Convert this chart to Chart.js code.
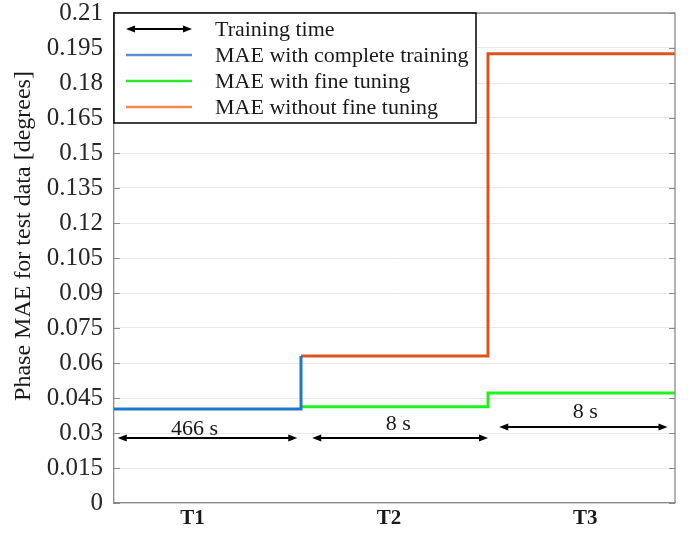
<!DOCTYPE html>
<html>
<head>
<meta charset="utf-8">
<script src="https://cdn.jsdelivr.net/npm/chart.js@4.4.0/dist/chart.umd.min.js"></script>
<style>
  html, body { margin: 0; padding: 0; background: #fff; }
  #wrap { width: 695px; height: 533px; }
</style>
</head>
<body>
<div id="wrap"><canvas id="chart"></canvas></div>
<script>
// stages and MAE per stage (null = no value in that stage)
const stages = ['T1', 'T2', 'T3'];
const stageLabelAt = [0.42, 1.47, 2.52];
const completeMAE = [0.0403, null, null];
const fineTuneMAE = [null, 0.0413, 0.0471];
const noFineTuneMAE = [null, 0.063, 0.1925];

const yTicks = [0, 0.015, 0.03, 0.045, 0.06, 0.075, 0.09, 0.105, 0.12, 0.135, 0.15, 0.165, 0.18, 0.195, 0.21];
const yTitle = 'Phase MAE for test data [degrees]';

// training time arrows
const trainTimes = ['466 s', '8 s', '8 s'];
const arrowLevel = [0.0279, 0.0279, 0.0326];
const arrowFrom = [0.02, 1.06, 2.06];
const arrowTo = [0.98, 2.0, 2.96];
const labelX = [0.43, 1.52, 2.52];
const labelLevel = [0.0317, 0.0338, 0.039];

const FONT = '"Liberation Serif", "Times New Roman", serif';
const AXIS_GRAY = '#8a8a8a';

function stepPoints(values) {
  const pts = [];
  values.forEach((v, i) => {
    if (v === null) return;
    pts.push({ x: i, y: v }, { x: i + 1, y: v });
  });
  return pts;
}

// the complete-training curve jumps up to the T2 level at the end of T1
const bluePts = stepPoints(completeMAE);
bluePts.push({ x: 1, y: noFineTuneMAE[1] });

function drawArrow(ctx, x1, x2, y) {
  const head = 9, half = 3.5;
  ctx.beginPath();
  ctx.moveTo(x1 + 4, y);
  ctx.lineTo(x2 - 4, y);
  ctx.stroke();
  ctx.beginPath();
  ctx.moveTo(x1, y); ctx.lineTo(x1 + head, y - half); ctx.lineTo(x1 + head, y + half); ctx.closePath();
  ctx.fill();
  ctx.beginPath();
  ctx.moveTo(x2, y); ctx.lineTo(x2 - head, y - half); ctx.lineTo(x2 - head, y + half); ctx.closePath();
  ctx.fill();
}

const framePlugin = {
  id: 'frame',
  afterDatasetsDraw(chart) {
    const { ctx, chartArea: a, scales } = chart;
    const y = scales.y, x = scales.x;
    ctx.save();
    // box (top + right) and inward ticks
    ctx.strokeStyle = AXIS_GRAY;
    ctx.lineWidth = 1.3;
    ctx.beginPath();
    ctx.moveTo(a.left, a.top); ctx.lineTo(a.right, a.top); ctx.lineTo(a.right, a.bottom);
    ctx.stroke();
    ctx.lineWidth = 1;
    yTicks.forEach(t => {
      const py = Math.round(y.getPixelForValue(t)) + 0.5;
      ctx.beginPath();
      ctx.moveTo(a.left, py); ctx.lineTo(a.left + 6, py);
      ctx.moveTo(a.right, py); ctx.lineTo(a.right - 6, py);
      ctx.stroke();
    });

    // y axis title
    ctx.save();
    ctx.translate(24, 236);
    ctx.rotate(-Math.PI / 2);
    ctx.fillStyle = '#1a1a1a';
    ctx.font = '24px ' + FONT;
    ctx.textAlign = 'center';
    ctx.textBaseline = 'middle';
    ctx.fillText(yTitle, 0, 0);
    ctx.restore();

    // training time arrows
    ctx.strokeStyle = '#000';
    ctx.fillStyle = '#000';
    ctx.lineWidth = 2;
    ctx.font = '22px ' + FONT;
    ctx.textAlign = 'center';
    ctx.textBaseline = 'middle';
    trainTimes.forEach((t, i) => {
      const py = y.getPixelForValue(arrowLevel[i]);
      drawArrow(ctx, x.getPixelForValue(arrowFrom[i]), x.getPixelForValue(arrowTo[i]), py);
      ctx.fillStyle = '#1a1a1a';
      ctx.fillText(t, x.getPixelForValue(labelX[i]), y.getPixelForValue(labelLevel[i]));
      ctx.fillStyle = '#000';
    });

    // legend
    const lx = a.left, ly = a.top, lw = 362, lh = 110;
    ctx.fillStyle = '#fff';
    ctx.fillRect(lx, ly, lw, lh);
    ctx.strokeStyle = '#000';
    ctx.lineWidth = 1.5;
    ctx.strokeRect(lx, ly, lw, lh);
    ctx.font = '22px ' + FONT;
    ctx.textAlign = 'left';
    ctx.textBaseline = 'middle';
    const rows = [{ label: 'Training time', arrow: true }].concat(
      chart.data.datasets.map(d => ({ label: d.label, color: d.legendColor }))
    );
    rows.forEach((r, i) => {
      const ry = ly + 16 + i * 26;
      if (r.arrow) {
        ctx.strokeStyle = '#000'; ctx.fillStyle = '#000'; ctx.lineWidth = 2;
        drawArrow(ctx, lx + 12, lx + 78, ry);
      } else {
        ctx.strokeStyle = r.color; ctx.lineWidth = 2.5;
        ctx.beginPath(); ctx.moveTo(lx + 12, ry); ctx.lineTo(lx + 78, ry); ctx.stroke();
      }
      ctx.fillStyle = '#1a1a1a';
      ctx.fillText(r.label, lx + 101, ry + 1);
    });
    ctx.restore();
  }
};

new Chart(document.getElementById('chart'), {
  type: 'line',
  data: {
    datasets: [
      { label: 'MAE with complete training', data: bluePts, borderColor: '#1f77c9', legendColor: '#5b8fd0' },
      { label: 'MAE with fine tuning', data: stepPoints(fineTuneMAE), borderColor: '#1ef21e', legendColor: '#2ee82e' },
      { label: 'MAE without fine tuning', data: stepPoints(noFineTuneMAE), borderColor: '#e0541c', legendColor: '#f08850' }
    ].map(d => Object.assign(d, { borderWidth: 3, pointRadius: 0, fill: false, tension: 0 }))
  },
  options: {
    responsive: true,
    maintainAspectRatio: false,
    animation: false,
    layout: { padding: { top: 13, right: 20, left: 0, bottom: 0 } },
    plugins: { legend: { display: false }, tooltip: { enabled: false } },
    scales: {
      x: {
        type: 'linear', min: 0, max: 3,
        afterBuildTicks: s => { s.ticks = stageLabelAt.map(v => ({ value: v })); },
        afterFit: s => { s.height = 30; s.paddingLeft = 0; s.paddingRight = 0; },
        ticks: {
          callback: (v, i) => stages[i],
          font: { family: FONT, size: 21, weight: 'bold' },
          color: '#1a1a1a', padding: 3, maxRotation: 0
        },
        grid: { display: false, drawTicks: false },
        border: { color: AXIS_GRAY, width: 1.3 }
      },
      y: {
        min: 0, max: 0.21,
        afterBuildTicks: s => { s.ticks = yTicks.map(v => ({ value: v })); },
        afterFit: s => { s.width = 114; s.paddingTop = 0; s.paddingBottom = 0; },
        ticks: {
          callback: v => String(v),
          font: { family: FONT, size: 25 },
          color: '#262626', padding: 11
        },
        grid: { color: '#e9e9e9', lineWidth: 1, drawTicks: false },
        border: { color: AXIS_GRAY, width: 1.3 }
      }
    }
  },
  plugins: [framePlugin]
});
</script>
</body>
</html>
